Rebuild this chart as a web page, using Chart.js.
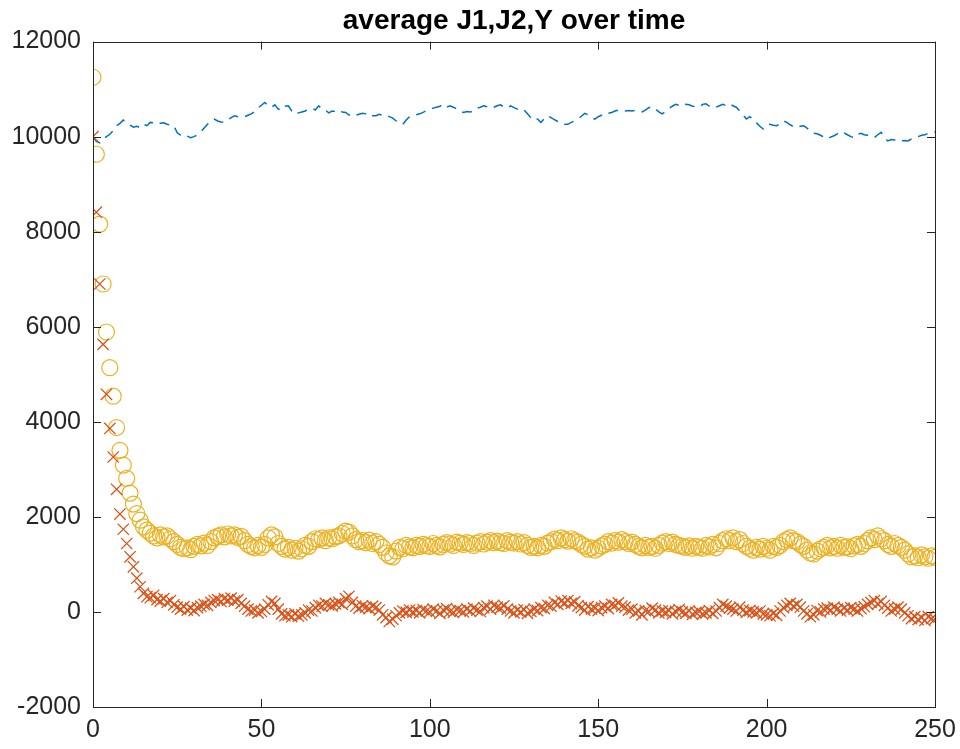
<!DOCTYPE html>
<html>
<head>
<meta charset="utf-8">
<script src="https://cdn.jsdelivr.net/npm/chart.js@4"></script>
<style>
  html, body { margin: 0; padding: 0; background: #fff; }
  #wrap { width: 960px; height: 749px; }
</style>
</head>
<body>
<div id="wrap"><canvas id="chart"></canvas></div>
<script>
// time steps 0..250
const steps = Array.from({ length: 251 }, (_, i) => i);

// dashed blue series
const ySeries = [
  10000, 9900, 9870, 9950, 10000, 10050, 10130, 10230, 10280, 10350,
  10300, 10240, 10200, 10220, 10190, 10260, 10230, 10300, 10290, 10260,
  10280, 10290, 10260, 10240, 10230, 10080, 10030, 9990, 10010, 9980,
  10000, 10040, 10100, 10180, 10260, 10330, 10370, 10330, 10310, 10300,
  10350, 10400, 10440, 10420, 10430, 10420, 10450, 10480, 10530, 10600,
  10660, 10720, 10650, 10620, 10670, 10580, 10560, 10640, 10650, 10540,
  10470, 10500, 10520, 10540, 10580, 10600, 10560, 10650, 10580, 10560,
  10500, 10540, 10530, 10560, 10520, 10510, 10460, 10420, 10450, 10470,
  10490, 10480, 10420, 10440, 10440, 10470, 10450, 10460, 10420, 10390,
  10330, 10300, 10260, 10350, 10420, 10440, 10460, 10480, 10510, 10550,
  10580, 10600, 10620, 10640, 10680, 10620, 10650, 10620, 10580, 10530,
  10510, 10530, 10520, 10540, 10600, 10620, 10650, 10630, 10600, 10620,
  10650, 10670, 10620, 10600, 10650, 10610, 10580, 10540, 10560, 10480,
  10400, 10340, 10370, 10300, 10380, 10440, 10400, 10360, 10320, 10300,
  10260, 10260, 10300, 10330, 10370, 10430, 10490, 10460, 10400, 10370,
  10420, 10450, 10440, 10490, 10510, 10540, 10560, 10540, 10540, 10550,
  10540, 10550, 10540, 10520, 10560, 10610, 10630, 10580, 10520, 10480,
  10530, 10590, 10640, 10680, 10660, 10640, 10680, 10670, 10640, 10630,
  10620, 10680, 10690, 10640, 10600, 10620, 10650, 10680, 10650, 10690,
  10650, 10620, 10540, 10460, 10370, 10420, 10370, 10290, 10220, 10160,
  10240, 10260, 10240, 10230, 10270, 10330, 10300, 10250, 10210, 10190,
  10220, 10230, 10180, 10120, 10070, 10060, 10030, 9990, 9950, 9990,
  10020, 10060, 10110, 10080, 10040, 10000, 9980, 10050, 10070, 10040,
  10030, 10010, 9980, 10040, 10090, 9980, 9910, 9940, 9930, 9900,
  9910, 9920, 9910, 9950, 9980, 10000, 10030, 10040, 10070, 10090,
  10100
];

// yellow circles
const j1Series = [
  11250, 9630, 8160, 6900, 5890, 5140, 4540, 3880, 3400, 3090,
  2810, 2500, 2270, 2070, 1930, 1790, 1720, 1660, 1600, 1560,
  1620, 1580, 1600, 1540, 1480, 1420, 1360, 1330, 1350, 1310,
  1380, 1420, 1390, 1450, 1400, 1480, 1560, 1590, 1620, 1580,
  1640, 1600, 1620, 1570, 1590, 1500, 1420, 1380, 1350, 1400,
  1360, 1420, 1560, 1620, 1580, 1440, 1380, 1320, 1360, 1300,
  1340, 1280, 1330, 1400, 1380, 1480, 1540, 1520, 1560, 1500,
  1560, 1540, 1580, 1600, 1650, 1700, 1680, 1600, 1520, 1480,
  1500, 1460, 1510, 1440, 1480, 1420, 1360, 1240, 1180, 1160,
  1280, 1360, 1330, 1400, 1370, 1350, 1400, 1380, 1420, 1400,
  1380, 1440, 1400, 1370, 1420, 1460, 1430, 1400, 1470, 1450,
  1420, 1460, 1440, 1400, 1450, 1480, 1430, 1470, 1500, 1460,
  1490, 1460, 1440, 1500, 1470, 1450, 1480, 1430, 1460, 1400,
  1360, 1380, 1350, 1400, 1380, 1450, 1480, 1530, 1500, 1560,
  1520, 1490, 1540, 1500, 1470, 1420, 1380, 1320, 1350, 1300,
  1340, 1390, 1420, 1480, 1450, 1500, 1470, 1520, 1480, 1440,
  1470, 1420, 1380, 1350, 1400, 1360, 1380, 1340, 1400, 1450,
  1480, 1440, 1470, 1420, 1400, 1380, 1360, 1390, 1340, 1380,
  1360, 1340, 1400, 1370, 1420, 1350, 1440, 1500, 1540, 1500,
  1560, 1480, 1520, 1440, 1380, 1340, 1300, 1360, 1320, 1380,
  1340, 1300, 1380, 1360, 1400, 1480, 1520, 1560, 1500, 1480,
  1420, 1380, 1300, 1240, 1220, 1280, 1330, 1360, 1400, 1350,
  1380, 1340, 1400, 1360, 1370, 1330, 1390, 1420, 1380, 1440,
  1500, 1560, 1520, 1600, 1540, 1500, 1420, 1380, 1440, 1400,
  1360, 1300, 1220, 1160, 1180, 1140, 1200, 1160, 1130, 1180,
  1150
];

// red crosses
const j2Series = [
  10000, 8410, 6900, 5630, 4580, 3860, 3260, 2580, 2060, 1740,
  1440, 1160, 950, 710, 530, 390, 320, 300, 350, 260,
  230, 280, 200, 240, 150, 100, 60, 110, 40, 80,
  30, 90, 120, 160, 140, 200, 240, 260, 220, 280,
  250, 290, 230, 260, 180, 120, 60, 20, 40, -20,
  10, 60, 150, 220, 180, 60, -40, -80, -60, -100,
  -40, -90, -60, -20, 40, 20, 90, 140, 120, 180,
  150, 130, 170, 200, 160, 280, 330, 200, 120, 80,
  130, 100, 70, 120, 90, 40, -60, -120, -200, -150,
  -80, -20, 20, -10, 40, 0, 30, -20, 50, 20,
  0, 60, 20, -30, 40, 70, 10, -10, 50, 30,
  0, 60, 20, 80, 40, 10, 90, 120, 60, 140,
  100, 80, 130, 60, 20, -20, 40, 0, 50, -30,
  10, 60, 30, 90, 70, 140, 120, 200, 160, 230,
  190, 240, 180, 210, 130, 90, 40, 110, 60, 80,
  30, 90, 120, 70, 160, 140, 190, 120, 100, 40,
  60, -20, 20, -60, 30, 10, 80, 40, -20, 20,
  -10, 30, -40, 10, 50, 0, -30, 20, -50, -10,
  10, -40, -20, 30, -30, 20, 90, 160, 120, 80,
  60, 20, 100, 40, -10, 30, 0, -20, 20, -40,
  -60, -80, -30, -70, 20, 90, 140, 180, 120, 160,
  100, 20, -40, -100, -60, 30, 0, 60, 80, 40,
  100, 60, 20, 80, 40, 90, 60, 20, 70, 110,
  160, 200, 240, 170, 220, 140, 80, 20, 60, 100,
  60, -20, -80, -140, -100, -160, -120, -180, -100, -140,
  -150
];

const xTicks = [0, 50, 100, 150, 200, 250];
const yTicks = [-2000, 0, 2000, 4000, 6000, 8000, 10000, 12000];

const axisColor = "#262626";
const fontFamily = "'Liberation Sans', Arial, Helvetica, sans-serif";

const toPoints = (vals) => vals.map((v, i) => ({ x: steps[i], y: v }));

// MATLAB style box with inward ticks on all four sides
const boxPlugin = {
  id: "matlabBox",
  afterDraw(chart) {
    const { ctx, chartArea: a, scales } = chart;
    const len = 8;
    ctx.save();
    ctx.strokeStyle = axisColor;
    ctx.lineWidth = 1;
    ctx.strokeRect(Math.round(a.left) + 0.5, Math.round(a.top) + 0.5,
      Math.round(a.right - a.left), Math.round(a.bottom - a.top));
    ctx.beginPath();
    xTicks.forEach((t) => {
      const px = Math.round(scales.x.getPixelForValue(t)) + 0.5;
      ctx.moveTo(px, a.bottom); ctx.lineTo(px, a.bottom - len);
      ctx.moveTo(px, a.top); ctx.lineTo(px, a.top + len);
    });
    yTicks.forEach((t) => {
      const py = Math.round(scales.y.getPixelForValue(t)) + 0.5;
      ctx.moveTo(a.left, py); ctx.lineTo(a.left + len, py);
      ctx.moveTo(a.right, py); ctx.lineTo(a.right - len, py);
    });
    ctx.stroke();
    ctx.restore();
  },
};

new Chart(document.getElementById("chart"), {
  type: "line",
  data: {
    datasets: [
      {
        label: "J2",
        data: toPoints(j2Series),
        showLine: false,
        pointStyle: "crossRot",
        pointRadius: 8,
        pointBorderWidth: 1.3,
        borderColor: "#D95319",
        backgroundColor: "#D95319",
      },
      {
        label: "J1",
        data: toPoints(j1Series),
        showLine: false,
        pointStyle: "circle",
        pointRadius: 8,
        pointBorderWidth: 1.2,
        borderColor: "#EDB120",
        backgroundColor: "rgba(0,0,0,0)",
      },
      {
        label: "Y",
        data: toPoints(ySeries),
        borderColor: "#0072BD",
        borderWidth: 1.5,
        borderDash: [10, 7],
        pointRadius: 0,
        tension: 0,
        fill: false,
      },
    ],
  },
  options: {
    responsive: true,
    maintainAspectRatio: false,
    animation: false,
    events: [],
    layout: { padding: { left: 0, right: 25, top: 0, bottom: 0 } },
    plugins: {
      legend: { display: false },
      tooltip: { enabled: false },
      title: {
        display: true,
        text: "average J1,J2,Y over time",
        fullSize: false,
        color: "#000",
        font: { family: fontFamily, size: 28, weight: "bold", lineHeight: 1.2 },
        padding: { top: 4, bottom: 4 },
      },
    },
    scales: {
      x: {
        type: "linear",
        min: 0,
        max: 250,
        afterFit: (s) => { s.height = 42; s.paddingLeft = 0; s.paddingRight = 0; },
        afterBuildTicks: (s) => { s.ticks = xTicks.map((v) => ({ value: v })); },
        ticks: {
          color: axisColor, padding: 8, font: { family: fontFamily, size: 25 },
          callback: (v) => String(v),
        },
        grid: { display: false, drawTicks: false },
        border: { display: false },
      },
      y: {
        type: "linear",
        min: -2000,
        max: 12000,
        afterFit: (s) => { s.width = 93; },
        afterBuildTicks: (s) => { s.ticks = yTicks.map((v) => ({ value: v })); },
        ticks: {
          color: axisColor, padding: 12, font: { family: fontFamily, size: 25 },
          callback: (v) => String(v),
        },
        grid: { display: false, drawTicks: false },
        border: { display: false },
      },
    },
  },
  plugins: [boxPlugin],
});
</script>
</body>
</html>
